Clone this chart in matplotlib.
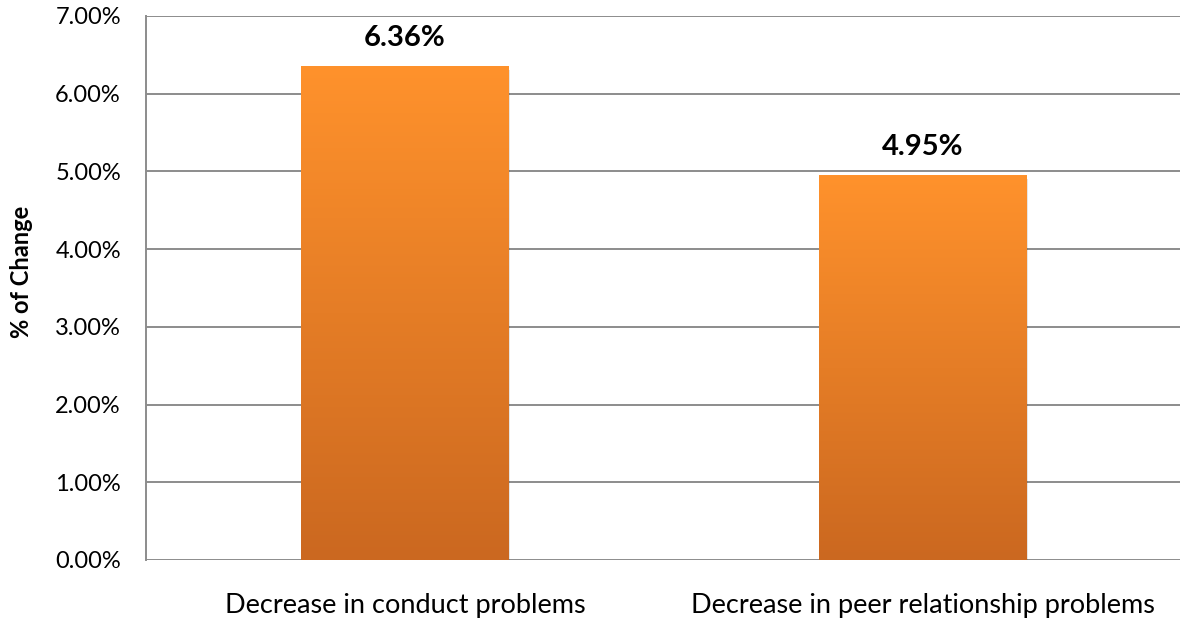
import numpy as np
import matplotlib
matplotlib.use('Agg')
import matplotlib.pyplot as plt
from matplotlib.colors import LinearSegmentedColormap
from matplotlib.patches import Rectangle

categories = ['Decrease in conduct problems', 'Decrease in peer relationship problems']
values = [6.36, 4.95]
value_labels = ['6.36%', '4.95%']
yticks = [0, 1, 2, 3, 4, 5, 6, 7]

plt.rcParams['font.family'] = ['Lato', 'DejaVu Sans']

fig = plt.figure(figsize=(11.8, 6.2), dpi=100)
ax = fig.add_axes([146/1180, 60/620, 1036/1180, 544/620])

x = np.arange(len(categories))
width = 0.40
grad = LinearSegmentedColormap.from_list('og', ['#CB6820', '#FF922C'])
gimg = np.linspace(0, 1, 256).reshape(-1, 1)

bars = ax.bar(x, values, width=width, color='none', zorder=3)
for b in bars:
    bx, by = b.get_x(), b.get_y()
    bw, bh = b.get_width(), b.get_height()
    # soft shadow
    ax.add_patch(Rectangle((bx + 0.002, by - 0.05), bw, bh, facecolor='#000000',
                           alpha=0.10, edgecolor='none', zorder=2))
    im = ax.imshow(gimg, cmap=grad, aspect='auto', origin='lower',
                   extent=[bx, bx + bw, by, by + bh], zorder=3)
    im.set_clip_path(b)

for xi, v, lab in zip(x, values, value_labels):
    ax.text(xi, v + 0.26, lab, ha='center', va='baseline', fontsize=21,
            fontweight='bold', color='#000000')

ax.set_xlim(-0.5, len(categories) - 0.5)
ax.set_ylim(0, 7)
ax.set_yticks(yticks)
ax.set_yticklabels(['%.2f%%' % t for t in yticks], fontsize=17)
ax.set_xticks(x)
ax.set_xticklabels(categories, fontsize=19.5)
ax.tick_params(axis='y', length=0, pad=18)
ax.tick_params(axis='x', length=0, pad=24)
ax.yaxis.grid(True, color='#8C8C8C', linewidth=1.4, zorder=0)
ax.set_axisbelow(True)
for s in ['top', 'right', 'bottom']:
    ax.spines[s].set_visible(False)
ax.spines['left'].set_color('#8C8C8C')
ax.spines['left'].set_linewidth(1.4)
ax.set_ylabel('% of Change', fontsize=17, fontweight='bold')
ax.yaxis.set_label_coords(-0.109, 0.53)

fig.savefig('out.png', dpi=100)
